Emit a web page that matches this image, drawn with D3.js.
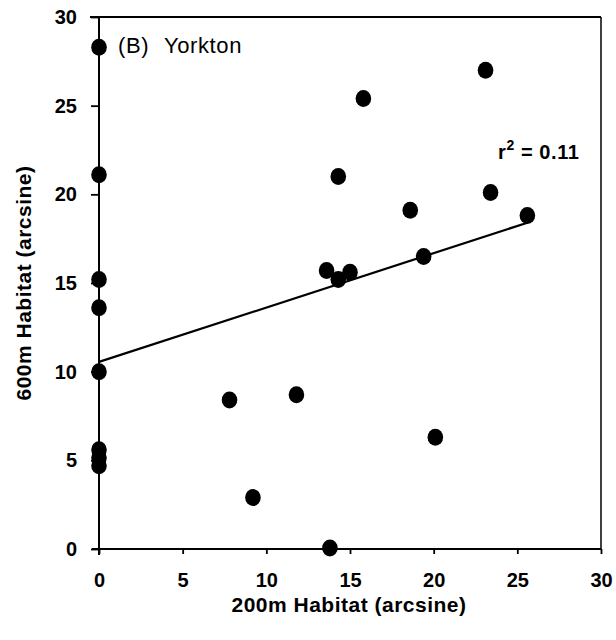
<!DOCTYPE html>
<html>
<head>
<meta charset="utf-8">
<script src="https://cdn.jsdelivr.net/npm/d3@7"></script>
<style>
  html, body { margin: 0; padding: 0; background: #fff; }
  svg { display: block; font-family: "Liberation Sans", Arial, sans-serif; }
</style>
</head>
<body>
<svg id="chart" width="616" height="640"></svg>
<script>
// Data
const xValues = [0, 0, 0, 0, 0, 0, 0, 0, 7.8, 9.2, 11.8, 13.8, 13.6, 14.3, 15.0, 14.3, 15.8, 18.6, 19.4, 20.1, 23.1, 23.4, 25.6];
const yValues = [28.3, 21.1, 15.2, 13.6, 10.0, 5.6, 5.15, 4.7, 8.4, 2.9, 8.7, 0.05, 15.7, 15.2, 15.6, 21.0, 25.4, 19.1, 16.5, 6.3, 27.0, 20.1, 18.8];
const xTicks = [0, 5, 10, 15, 20, 25, 30];
const yTicks = [0, 5, 10, 15, 20, 25, 30];
const fitLine = [[0, 10.55], [25.6, 18.4]];
const panelLetter = "(B)";
const panelName = "Yorkton";
const xTitle = "200m Habitat (arcsine)";
const yTitle = "600m Habitat (arcsine)";
const r2Label = "0.11";

(function () {
const svg = d3.select("#chart");
const mLeft = 99, mRight = 601, mTop = 17, mBottom = 549;

const x = d3.scaleLinear().domain([0, 30]).range([mLeft, mRight]);
const y = d3.scaleLinear().domain([0, 30]).range([mBottom, mTop]);

// Box top and right
svg.append("line").attr("x1", mLeft - 9).attr("x2", mRight).attr("y1", mTop).attr("y2", mTop)
  .attr("stroke", "#000").attr("stroke-width", 2);
svg.append("line").attr("x1", mRight).attr("x2", mRight).attr("y1", mTop).attr("y2", mBottom)
  .attr("stroke", "#000").attr("stroke-width", 1.5);

// Axes
const xAxis = svg.append("g").attr("transform", `translate(0,${mBottom})`)
  .call(d3.axisBottom(x).tickValues(xTicks).tickSize(5).tickPadding(19).tickFormat(d3.format("d")));
const yAxis = svg.append("g").attr("transform", `translate(${mLeft},0)`)
  .call(d3.axisLeft(y).tickValues(yTicks).tickSize(8).tickPadding(14).tickFormat(d3.format("d")));

[xAxis, yAxis].forEach(g => {
  g.select(".domain").attr("stroke", "#000").attr("stroke-width", 2);
  g.selectAll(".tick line").attr("stroke", "#000").attr("stroke-width", 1.8);
  g.selectAll(".tick text").attr("fill", "#000").attr("font-size", 20).attr("font-weight", "bold")
    .attr("font-family", "'Liberation Sans', Arial, sans-serif");
});
xAxis.select(".domain").attr("d", `M${mLeft - 7},0H${mRight}`);
yAxis.select(".domain").attr("d", `M0,${mBottom + 6}V${mTop}`);

// Regression line
svg.append("path")
  .datum(fitLine)
  .attr("d", d3.line().x(d => x(d[0])).y(d => y(d[1])))
  .attr("stroke", "#000").attr("stroke-width", 2.2).attr("fill", "none");

// Points
svg.append("g").selectAll("ellipse")
  .data(xValues.map((v, i) => [v, yValues[i]]))
  .join("ellipse")
  .attr("cx", d => x(d[0]))
  .attr("cy", d => y(d[1]))
  .attr("rx", 7.8).attr("ry", 8.5)
  .attr("fill", "#000");

// Panel label
const pl = svg.append("text").attr("y", 53)
  .attr("font-size", 22).attr("fill", "#000").attr("letter-spacing", 0.6);
pl.append("tspan").attr("x", 118).text(panelLetter);
pl.append("tspan").attr("x", 164).text(panelName);

// r^2 label
const r2 = svg.append("text").attr("x", 498).attr("y", 159)
  .attr("font-size", 20).attr("font-weight", "bold").attr("fill", "#000").attr("letter-spacing", 0.6);
r2.append("tspan").text("r");
r2.append("tspan").attr("dy", -9).attr("font-size", 14).text("2");
r2.append("tspan").attr("dy", 9).text(" = " + r2Label);

// Axis titles
svg.append("text").attr("x", (mLeft + mRight) / 2 - 1).attr("y", 612)
  .attr("text-anchor", "middle").attr("font-size", 21).attr("font-weight", "bold")
  .attr("letter-spacing", 0.5).attr("fill", "#000")
  .text(xTitle);

svg.append("text")
  .attr("transform", `translate(31,${(mTop + mBottom) / 2}) rotate(-90)`)
  .attr("text-anchor", "middle").attr("font-size", 21).attr("font-weight", "bold")
  .attr("letter-spacing", 0.5).attr("fill", "#000")
  .text(yTitle);
})();
</script>
</body>
</html>
